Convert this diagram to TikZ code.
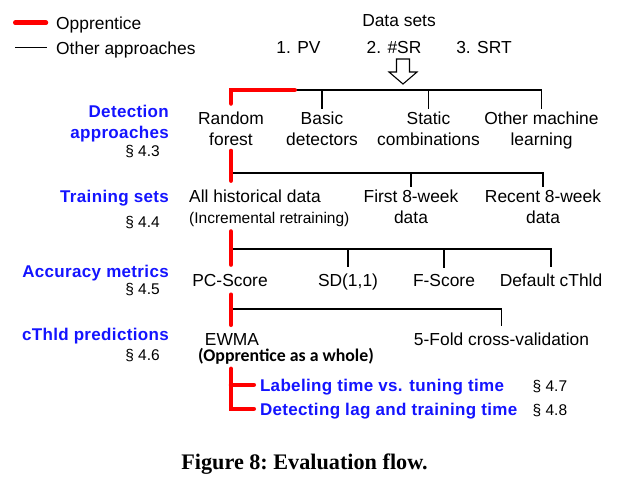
\documentclass[tikz,border=0pt]{standalone}
\usepackage{fontspec}
\setmainfont{Liberation Sans}
\newfontfamily\stagefont[LetterSpace=2.0]{Liberation Sans}
\newfontfamily\carlitofont{Carlito}
\newfontfamily\timesfont{Liberation Serif}
\usetikzlibrary{positioning}
\definecolor{oppred}{RGB}{255,0,0}
\definecolor{secblue}{RGB}{20,20,255}

\begin{document}
\begin{tikzpicture}[x=1pt, y=-1pt]
        % Define styles for shapes
        \tikzstyle{legend} = [anchor=base west, inner sep=0pt, text depth=0pt, font=\fontsize{17.4}{21}\selectfont]
        \tikzstyle{choice} = [align=center, anchor=north, inner xsep=1pt, inner ysep=2.5pt, font=\fontsize{17.4}{21}\selectfont]
        \tikzstyle{metric} = [anchor=base, inner xsep=1pt, inner ysep=5.8pt, font=\fontsize{17.4}{21}\selectfont]
        \tikzstyle{stage} = [anchor=base east, align=right, inner sep=0pt, text=secblue, font=\stagefont\bfseries\fontsize{17}{21}\selectfont]
        \tikzstyle{finding} = [anchor=base west, inner sep=1pt, text depth=0pt, text=secblue, font=\stagefont\bfseries\fontsize{17}{21}\selectfont]
        \tikzstyle{sect} = [anchor=base east, inner sep=0pt, font=\fontsize{15.5}{19}\selectfont]
        \tikzstyle{opp} = [draw=oppred, line width=4.5pt, line cap=round]
        \tikzstyle{other} = [draw=black, line width=1.3pt]
        \useasboundingbox (0,0) rectangle (631,491);

        % Legend
        \node[legend] (lgopp) at (56,29) {Opprentice};
        \node[legend] (lgother) at (56,54) {Other approaches};
        \draw[opp] ([xshift=-40.75pt]lgopp.west) -- ([xshift=-10pt]lgopp.west);
        \draw[other] ([xshift=-41pt]lgother.west) -- ([xshift=-9pt]lgother.west);

        % Data sets
        \node[legend, anchor=base] (data) at (399,26) {Data sets};
        \node[legend, anchor=base] (pv) at (298.5,53) {1. PV};
        \node[legend, anchor=base] (sr) at (394,53) {2. \#SR};
        \node[legend, anchor=base] (srt) at (484,53) {3. SRT};
        \coordinate (dsarrow) at (403,59);
        \draw[line width=1.1pt, fill=white] (dsarrow) ++(-6.5,0) -- ++(13,0) -- ++(0,13) -- ++(7.5,0) -- ++(-14,12) -- ++(-14,-12) -- ++(7.5,0) -- cycle;

        % Stages
        \node[stage, anchor=north east] (detect) at (169,104.5) {Detection\\approaches};
        \node[sect] (s43) at (160,156.7) {§ 4.3};
        \node[stage] (train) at (169,202.3) {Training sets};
        \node[sect] (s44) at (160,227.3) {§ 4.4};
        \node[stage] (metrics) at (169,277.3) {Accuracy metrics};
        \node[sect] (s45) at (160,294) {§ 4.5};
        \node[stage] (cthld) at (169,340) {cThld predictions};
        \node[sect] (s46) at (160,360) {§ 4.6};

        % Detection approaches
        \coordinate (bar1) at (231,90);
        \node[choice] (rf) at (231,109) {Random\\forest};
        \node[choice] (basic) at (322,109) {Basic\\detectors};
        \node[choice] (static) at (428.5,109) {Static\\combinations};
        \node[choice] (ml) at (541.5,109) {Other machine\\learning};

        % Training sets
        \coordinate (bar2) at (231,173);
        \node[choice, anchor=north west, align=left, inner ysep=3pt] (hist) at (188,187) {All historical data\\{\fontsize{15.5}{21}\selectfont (Incremental retraining)}};
        \node[choice, inner ysep=3pt] (first) at (411,187) {First 8-week\\data};
        \node[choice, inner ysep=3pt] (recent) at (543,187) {Recent 8-week\\data};

        % Accuracy metrics
        \coordinate (bar3) at (231,249);
        \node[metric] (pcs) at (230,286) {PC-Score};
        \node[metric] (sd) at (348,286) {SD(1,1)};
        \node[metric] (fs) at (444,286) {F-Score};
        \node[metric] (dflt) at (551,286) {Default cThld};

        % cThld predictions
        \coordinate (bar4) at (231,309);
        \node[metric] (ewma) at (232,345) {EWMA};
        \node[metric] (fold) at (501.5,345) {5-Fold cross-validation};
        \node[anchor=base, inner sep=1pt, font=\carlitofont\bfseries\fontsize{17.8}{21}\selectfont] (whole) at (286,361.7) {(Opprentice as a whole)};

        % Findings
        \node[finding] (lab) at (258.8,391) {Labeling time vs. tuning time};
        \node[finding] (det) at (258.8,415) {Detecting lag and training time};
        \node[sect, anchor=base west] (s47) at (532.5,391) {§ 4.7};
        \node[sect, anchor=base west] (s48) at (532.5,415) {§ 4.8};

        \node[anchor=base, font=\timesfont\bfseries\frenchspacing\fontsize{22.2}{25}\selectfont] (caption) at (304.5,469) {Figure 8: Evaluation flow.};

        % Draw lines
        \draw[other] (bar1) -| (basic.north);
        \draw[other] (bar1) -| (static.north);
        \draw[other] (bar1) -| (ml.north);
        \draw[other] (bar2) -| (first.north);
        \draw[other] (bar2) -| (recent.north);
        \draw[other] (bar3) -| (sd.north);
        \draw[other] (bar3) -| (fs.north);
        \draw[other] (bar3) -| (dflt.north);
        \draw[other] (bar4) -| (fold.north);

        \draw[opp, shorten <=5.5pt] (rf.north) -- (bar1) -- ++(63.75,0);
        \draw[opp, shorten <=2.75pt, shorten >=6.35pt] (rf.south) -- (rf.south |- hist.north);
        \draw[opp, shorten <=1.25pt, shorten >=3.25pt] (rf.south |- hist.south) -- (rf.south |- pcs.north);
        \draw[opp, shorten <=2.5pt, shorten >=2.25pt] (rf.south |- pcs.south) -- (rf.south |- ewma.north);
        \draw[opp, shorten <=3.15pt, shorten >=5pt] (rf.south |- whole.south) |- (det.west);
        \draw[opp, shorten >=5pt] (rf.south |- lab.west) -- (lab.west);
    \end{tikzpicture}
\end{document}
